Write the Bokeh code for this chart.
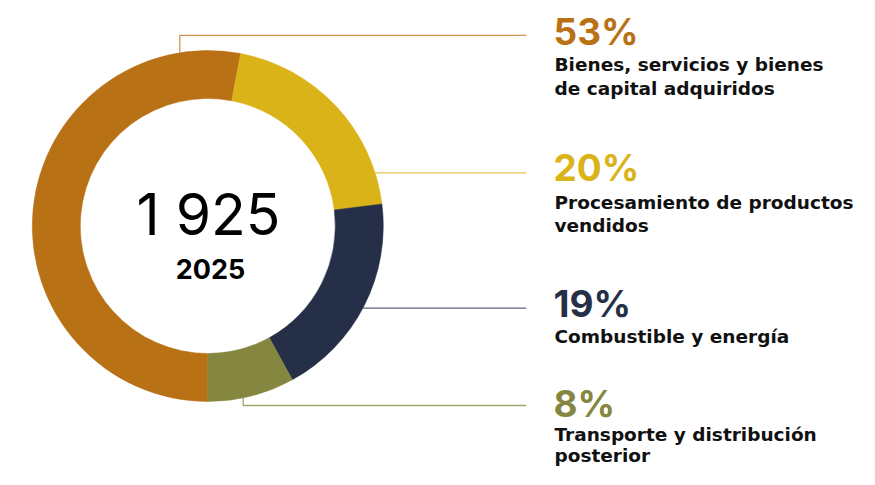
from bokeh.plotting import figure
from bokeh.models import Range1d, ColumnDataSource
from bokeh.core.properties import value
from bokeh.embed import file_html
from bokeh.resources import INLINE
import math

# ---- data ----
categories = ["Bienes, servicios y bienes de capital adquiridos",
              "Procesamiento de productos vendidos",
              "Combustible y energía",
              "Transporte y distribución posterior"]
shares = [53, 20, 19, 8]
pct_labels = ["53%", "20%", "19%", "8%"]
label_lines = [["Bienes, servicios y bienes", "de capital adquiridos"],
               ["Procesamiento de productos", "vendidos"],
               ["Combustible y energía"],
               ["Transporte y distribución", "posterior"]]
colors = ["#B97116", "#DAB319", "#253048", "#85863F"]
total_label = "1 925"
year_label = "2025"

# ---- layout (picture pixel coords, y measured downward) ----
W, H = 859, 469
def Y(y):
    return H - y

cx, cy = 207.3, 225.5
R_out, R_in = 175.5, 127.5
FONT = "Inter"
LABEL_FONT = "DejaVu Sans"
K_INTER = 0.38   # empirical baseline correction (fraction of font size)
K_DEJAVU = 0.44

p = figure(width=W, height=H, output_backend="svg", toolbar_location=None,
           x_range=Range1d(0, W), y_range=Range1d(0, H), min_border=0)
p.axis.visible = False
p.grid.visible = False
p.outline_line_color = None
p.background_fill_color = "white"
p.border_fill_color = "white"

# donut: start at 6 o'clock, going clockwise
total = sum(shares)
starts, ends = [], []
cum = 0.0
for s in shares:
    starts.append(-math.pi / 2 - 2 * math.pi * cum / total)
    cum += s
    ends.append(-math.pi / 2 - 2 * math.pi * cum / total)
src = ColumnDataSource(dict(x=[cx] * len(shares), y=[Y(cy)] * len(shares),
                            start=starts, end=ends, color=colors))
p.annular_wedge(x="x", y="y", inner_radius=R_in, outer_radius=R_out,
                start_angle="start", end_angle="end", direction="clock",
                fill_color="color", line_color="color", line_width=0.5, source=src)

# leader lines
x_end = 525.7
leaders = [
    ([179.3, 179.3, x_end], [52.0, 34.8, 34.8]),
    ([374.5, x_end], [172.3, 172.3]),
    ([362.5, x_end], [307.7, 307.7]),
    ([242.7, 242.7, x_end], [397.5, 405.0, 405.0]),
]
for (xs, ys), c in zip(leaders, colors):
    p.line(xs, [Y(v) for v in ys], line_color=c, line_width=1.3, line_alpha=0.75)

def put(x, baseline, txt, color, font, style, size, k, align="left"):
    p.text([x], [Y(baseline - k * size)], text=[txt], text_color=color,
           text_font=value(font), text_font_style=style,
           text_font_size=f"{size}px", text_baseline="alphabetic", text_align=align)

# right side texts
text_x = 553
pct_baselines = [45, 181.5, 317, 417]
line_baselines = [[72, 96.5], [210, 233.3], [344], [442, 463]]
for i in range(len(shares)):
    put(text_x, pct_baselines[i], pct_labels[i], colors[i], FONT, "bold", 37, K_INTER)
    for ln, yb in zip(label_lines[i], line_baselines[i]):
        put(text_x + 1, yb, ln, "#111111", LABEL_FONT, "bold", 18.5, K_DEJAVU)

# center texts
put(208, 236, total_label, "#000000", FONT, "normal", 57, K_INTER, "center")
put(210, 279, year_label, "#000000", FONT, "bold", 27, K_INTER, "center")

open("out.html", "w").write(file_html(p, INLINE))
